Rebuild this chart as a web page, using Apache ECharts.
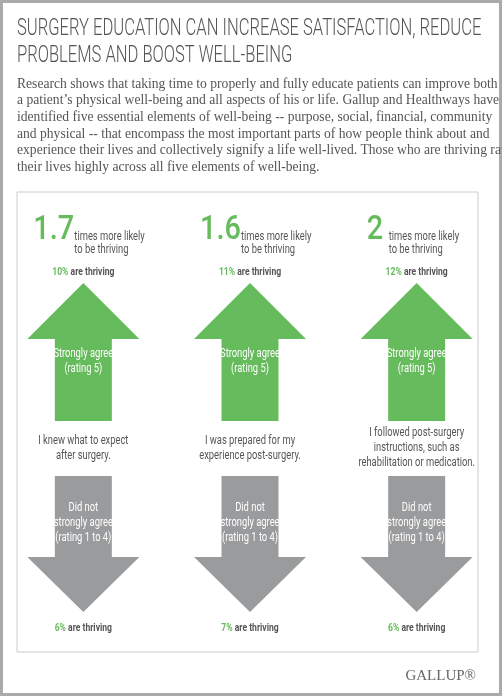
<!DOCTYPE html>
<html>
<head>
<meta charset="utf-8">
<script src="https://cdn.jsdelivr.net/npm/echarts@6/dist/echarts.min.js"></script>
<style>
  html, body { margin: 0; padding: 0; background: #fff; }
  #chart { width: 502px; height: 696px; }
</style>
</head>
<body>
<div id="chart"></div>
<script>
var multipliers = ['1.7', '1.6', '2'];
var topShares = ['10%', '11%', '12%'];
var bottomShares = ['6%', '7%', '6%'];
var statements = [
    'I knew what to expect\nafter surgery.',
    'I was prepared for my\nexperience post-surgery.',
    'I followed post-surgery\ninstructions, such as\nrehabilitation or medication.'
];
var columns = ['A', 'B', 'C'];

var SANS = 'Roboto, "DejaVu Sans", sans-serif';
var GREEN = '#66bb5c';
var GREY = '#9a9b9d';

var paragraph = 'Research shows that taking time to properly and fully educate patients can improve both\n' +
    'a patient\u2019s physical well-being and all aspects of his or life. Gallup and Healthways have\n' +
    'identified five essential elements of well-being -- purpose, social, financial, community\n' +
    'and physical -- that encompass the most important parts of how people think about and\n' +
    'experience their lives and collectively signify a life well-lived. Those who are thriving rate\n' +
    'their lives highly across all five elements of well-being.';

// condensed text: regular font squeezed horizontally
function cond(x, y, style, sx) {
    style.x = 0;
    style.y = 0;
    return { type: 'text', x: x, y: y, scaleX: sx || 0.78, style: style };
}

function shareText(cx, y, share) {
    return cond(cx, y, { text: '{g|' + share + '}{d| are thriving}',
        align: 'center', verticalAlign: 'middle',
        rich: { g: { fill: GREEN, font: 'bold 11px ' + SANS }, d: { fill: '#555', font: 'bold 11px ' + SANS } } });
}

function renderColumn(params, api) {
    var i = params.dataIndex;
    var cx = api.coord([i, 0])[0];
    var headW = 56, shaftW = 28.5;
    var children = [
        cond(cx - 50, 247, { text: multipliers[i], fill: GREEN,
            font: '500 34px ' + SANS, verticalAlign: 'bottom' }, 0.85),
        cond(cx - 50 + (multipliers[i].length > 1 ? 41 : 22), 230,
            { text: 'times more likely\nto be thriving', fill: '#555', lineHeight: 13, font: '12px ' + SANS }),
        shareText(cx, 272, topShares[i]),
        { type: 'polygon', shape: { points: [
            [cx, 283], [cx + headW, 339], [cx + shaftW, 339], [cx + shaftW, 421],
            [cx - shaftW, 421], [cx - shaftW, 339], [cx - headW, 339]] },
            style: { fill: GREEN } },
        cond(cx, 361, { text: 'Strongly agree\n(rating 5)', fill: '#fff',
            align: 'center', verticalAlign: 'middle', lineHeight: 15, font: '12px ' + SANS }),
        cond(cx, 448, { text: statements[i], fill: '#555',
            align: 'center', verticalAlign: 'middle', lineHeight: 15, font: '12px ' + SANS }),
        { type: 'polygon', shape: { points: [
            [cx - shaftW, 476], [cx + shaftW, 476], [cx + shaftW, 557], [cx + headW, 557],
            [cx, 612], [cx - headW, 557], [cx - shaftW, 557]] },
            style: { fill: GREY } },
        cond(cx, 523, { text: 'Did not\nstrongly agree\n(rating 1 to 4)', fill: '#fff',
            align: 'center', verticalAlign: 'middle', lineHeight: 15, font: '12px ' + SANS }),
        shareText(cx, 628, bottomShares[i])
    ];
    return { type: 'group', children: children };
}

var myChart = echarts.init(document.getElementById('chart'));
myChart.setOption({
    animation: false,
    grid: { left: 0, right: 2, top: 0, bottom: 0 },
    xAxis: { type: 'category', data: columns, show: false },
    yAxis: { type: 'value', show: false, min: 0, max: 1 },
    graphic: [
        { type: 'rect', shape: { x: 1.5, y: 1.5, width: 499, height: 693 },
          style: { fill: 'none', stroke: '#aaa', lineWidth: 3 } },
        cond(17, 16, {
            text: 'SURGERY EDUCATION CAN INCREASE SATISFACTION, REDUCE\nPROBLEMS AND BOOST WELL-BEING',
            fill: '#555', font: '300 23px ' + SANS, lineHeight: 27 }, 0.72),
        { type: 'text', left: 17, top: 76, style: {
            text: paragraph, fill: '#555', lineHeight: 16.6,
            font: '13.6px "Liberation Serif", serif' } },
        { type: 'rect', shape: { x: 17, y: 192, width: 461, height: 460 },
          style: { fill: 'none', stroke: '#ccc', lineWidth: 1 } },
        { type: 'text', right: 26, top: 669, style: {
            text: 'GALLUP\u00ae', fill: '#666', font: '15px "Liberation Serif", serif' } }
    ],
    series: [{
        type: 'custom',
        data: columns.map(function (c, i) { return [i, 0]; }),
        renderItem: renderColumn,
        silent: true
    }]
});
</script>
</body>
</html>
